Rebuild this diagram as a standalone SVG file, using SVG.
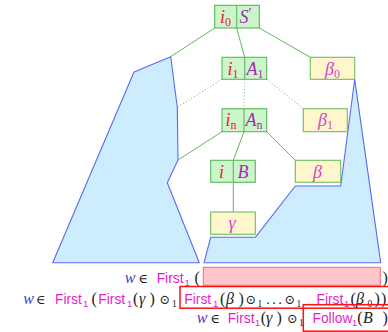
<svg xmlns="http://www.w3.org/2000/svg" width="388" height="332" viewBox="0 0 388 332">
  <style>
    .tri { fill: #cdecfd; stroke: #5a6aee; stroke-width: 1.1; stroke-linejoin: round; }
    .edge { stroke: #62b85a; stroke-width: 1; fill: none; }
    .dot { stroke: #7cc874; stroke-width: 1.1; stroke-dasharray: 1 2.2; fill: none; }
    .nt { fill: #ccf5cc; stroke: #5cb85c; stroke-width: 1.1; }
    .leaf { fill: #fff6cc; stroke: #6cbf62; stroke-width: 1.1; }
    .div { stroke: #5cb85c; stroke-width: 1.1; }
    .mi { font-family: "Liberation Serif", "DejaVu Serif", serif; font-style: italic; font-size: 18px; }
    .sub { font-family: "Liberation Serif", "DejaVu Serif", serif; font-style: normal; font-size: 12px; }
    .st { fill: #e8232c; }
    .sym { fill: #a62bb0; }
    .gr { fill: #d046c8; }
    .row { font-family: "Liberation Serif", "DejaVu Serif", serif; font-size: 16px; fill: #222; }
    .sf { font-family: "Liberation Sans", "DejaVu Sans", sans-serif; font-size: 13.8px; fill: #e61ec8; }
    .s1 { font-size: 9.5px; }
    .w { font-style: italic; fill: #3a3acc; }
    .op { font-family: "DejaVu Serif", serif; font-size: 13px; fill: #222; }
    .g { font-style: italic; }
    .box { fill: none; stroke: #ff1010; stroke-width: 1.5; }
    .hole { fill: #ffc6cc; stroke: #ff6a6a; stroke-width: 1; }
  </style>

  <!-- derivation regions -->
  <g id="region-left">
    <path class="tri" d="M170.7,56.7 L177.3,107.3 L178,160 L167.3,182.7 L199.3,262.7 L52.7,262.7 L134,72 Z"/>
  </g>
  <g id="region-right">
    <path class="tri" d="M354.7,79.3 L380.7,262.7 L204,262.7 L210.7,237.3 L255.3,237.3 L295.3,186 L340.7,186 Z"/>
  </g>

  <!-- tree edges -->
  <g id="edges">
    <line class="edge" x1="214.7" y1="28" x2="170.7" y2="56.7"/>
    <line class="edge" x1="236.7" y1="28" x2="244.7" y2="57.3"/>
    <line class="edge" x1="259.3" y1="28" x2="310.3" y2="57.3"/>
    <line class="dot" x1="222" y1="79.3" x2="177.3" y2="107.3"/>
    <line class="dot" x1="244.7" y1="79.3" x2="244" y2="108.7"/>
    <line class="dot" x1="266.7" y1="79.3" x2="303.3" y2="108.7"/>
    <line class="edge" x1="222" y1="131.7" x2="178" y2="160"/>
    <line class="edge" x1="244" y1="131.7" x2="233.3" y2="160.3"/>
    <line class="edge" x1="266.7" y1="131.7" x2="295.3" y2="160.3"/>
    <line class="edge" x1="233.3" y1="182.3" x2="233.3" y2="212"/>
  </g>

  <!-- stack nodes -->
  <g id="node-i0">
    <rect class="nt" x="214.7" y="5.3" width="44.6" height="22.7"/>
    <line class="div" x1="236.7" y1="5.3" x2="236.7" y2="28"/>
    <text class="mi st" x="220" y="22.5">i<tspan class="sub" dy="3">0</tspan></text>
    <text class="mi sym" x="239.5" y="22.5">S<tspan font-style="normal" font-size="14" dy="-5">′</tspan></text>
  </g>
  <g id="node-i1">
    <rect class="nt" x="222" y="57.3" width="44.7" height="22"/>
    <line class="div" x1="244.7" y1="57.3" x2="244.7" y2="79.3"/>
    <text class="mi st" x="227.5" y="74.5">i<tspan class="sub" dy="3">1</tspan></text>
    <text class="mi sym" x="246.5" y="74.5">A<tspan class="sub" dy="3">1</tspan></text>
  </g>
  <g id="node-in">
    <rect class="nt" x="222" y="108.7" width="44.7" height="23"/>
    <line class="div" x1="244" y1="108.7" x2="244" y2="131.7"/>
    <text class="mi st" x="225.5" y="125.5">i<tspan class="sub" font-style="italic" dy="3">n</tspan></text>
    <text class="mi sym" x="245.5" y="125.5">A<tspan class="sub" font-style="italic" dy="3">n</tspan></text>
  </g>
  <g id="node-i">
    <rect class="nt" x="210.7" y="160.3" width="44.6" height="22"/>
    <line class="div" x1="233.3" y1="160.3" x2="233.3" y2="182.3"/>
    <text class="mi st" x="219" y="177.5">i</text>
    <text class="mi sym" x="237.5" y="177.5">B</text>
  </g>
  <g id="node-beta0">
    <rect class="leaf" x="310.3" y="57.3" width="44.4" height="22"/>
    <text class="mi gr" x="325" y="74.5">β<tspan class="sub" dy="3">0</tspan></text>
  </g>
  <g id="node-beta1">
    <rect class="leaf" x="303.3" y="108.7" width="44" height="23"/>
    <text class="mi gr" x="318" y="125.5">β<tspan class="sub" dy="3">1</tspan></text>
  </g>
  <g id="node-beta">
    <rect class="leaf" x="295.3" y="160.3" width="45.4" height="22"/>
    <text class="mi gr" x="313" y="177.5">β</text>
  </g>
  <g id="node-gamma">
    <rect class="leaf" x="210.7" y="212" width="44.6" height="22.3"/>
    <text class="mi gr" x="228.5" y="229">γ</text>
  </g>

  <!-- lookahead equations -->
  <g id="eq1">
    <rect class="hole" x="203.3" y="267.3" width="177" height="18"/>
    <text class="row" y="282.5"><tspan class="w" x="124.7">w</tspan><tspan class="op" x="138.5">∈</tspan><tspan class="sf" x="156.7">First</tspan><tspan class="sf s1" x="184.5" dy="3">1</tspan><tspan x="194.5" dy="-3">(</tspan><tspan x="382.5">)</tspan></text>
  </g>
  <g id="eq2">
    <rect class="box" x="180" y="286.5" width="212" height="21.7"/>
    <text class="row" y="303.5"><tspan class="w" x="23.3">w</tspan><tspan class="op" x="36">∈</tspan><tspan class="sf" x="55">First</tspan><tspan class="sf s1" x="83" dy="3">1</tspan><tspan x="91.5" dy="-3">(</tspan><tspan class="sf" x="98.3">First</tspan><tspan class="sf s1" x="127" dy="3">1</tspan><tspan x="133" dy="-3">(</tspan><tspan class="g" x="139">γ</tspan><tspan x="149.5">)</tspan><tspan class="op" x="159.5">⊙</tspan><tspan class="s1" x="172" dy="3">1</tspan><tspan class="sf" x="184.3" dy="-3">First</tspan><tspan class="sf s1" x="213" dy="3">1</tspan><tspan x="220" dy="-3">(</tspan><tspan class="g" x="226">β</tspan><tspan x="238.5">)</tspan><tspan class="op" x="245.5">⊙</tspan><tspan class="s1" x="257.5" dy="3">1</tspan><tspan class="op" x="266 272 278" dy="-3">...</tspan><tspan class="op" x="284.5">⊙</tspan><tspan class="s1" x="296.5" dy="3">1</tspan><tspan class="sf" x="316.5" dy="-3">First</tspan><tspan class="sf s1" x="344" dy="3">1</tspan><tspan x="350.5" dy="-3">(</tspan><tspan class="g" x="356">β</tspan><tspan class="s1" x="367.5" dy="3">0</tspan><tspan x="374.5" dy="-3">)</tspan><tspan x="381">)</tspan></text>
  </g>
  <g id="eq3">
    <rect class="box" x="303.3" y="304.7" width="90" height="26.5"/>
    <text class="row" y="323"><tspan class="w" x="196.7">w</tspan><tspan class="op" x="210.5">∈</tspan><tspan class="sf" x="227.7">First</tspan><tspan class="sf s1" x="255" dy="3">1</tspan><tspan x="260.8" dy="-3">(</tspan><tspan class="g" x="266">γ</tspan><tspan x="276.5">)</tspan><tspan class="op" x="287">⊙</tspan><tspan class="s1" x="299" dy="3">1</tspan><tspan class="sf" x="312.5" dy="-3">Follow</tspan><tspan class="sf s1" x="352" dy="3">1</tspan><tspan x="357.3" dy="-3">(</tspan><tspan class="g" x="363">B</tspan><tspan x="382.5">)</tspan></text>
  </g>
</svg>
